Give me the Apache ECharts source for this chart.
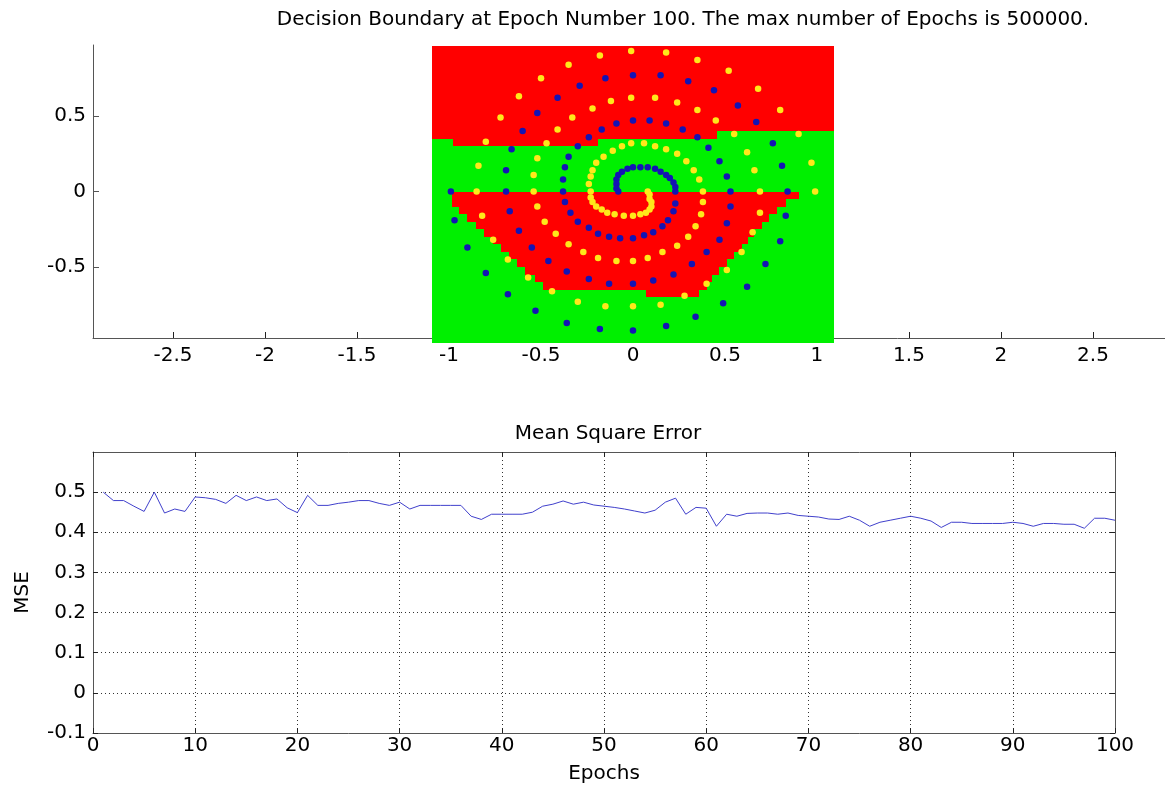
<!DOCTYPE html>
<html>
<head>
<meta charset="utf-8">
<script src="https://cdn.jsdelivr.net/npm/echarts@6.0.0/dist/echarts.min.js"></script>
<style>
  html, body { margin: 0; padding: 0; background: #fff; }
  #chart { width: 1165px; height: 787px; }
</style>
</head>
<body>
<div id="chart"></div>
<script>
// ---- top plot: decision boundary ----
const boundaryTicksX = [-2.5, -2, -1.5, -1, -0.5, 0, 0.5, 1, 1.5, 2, 2.5];
const boundaryTicksY = [-0.5, 0, 0.5];

// evaluated area (green = class 2) : [x0, x1, y0, y1]
const greenArea = [[-1.09, 1.09, -1.0, 0.965]];

const redBands = [
    [-1.09, 1.09, 0.40, 0.965],
    [-1.09, 0.455, 0.35, 0.40],
    [-0.98, -0.19, 0.30, 0.35],
    [-0.985, 0.90, -0.05, 0.0],
    [-0.985, 0.83, -0.10, -0.05],
    [-0.945, 0.78, -0.15, -0.10],
    [-0.90, 0.74, -0.20, -0.15],
    [-0.855, 0.70, -0.25, -0.20],
    [-0.81, 0.66, -0.30, -0.25],
    [-0.76, 0.625, -0.35, -0.30],
    [-0.72, 0.59, -0.40, -0.35],
    [-0.675, 0.55, -0.45, -0.40],
    [-0.63, 0.51, -0.50, -0.45],
    [-0.585, 0.47, -0.55, -0.50],
    [-0.535, 0.43, -0.60, -0.55],
    [-0.49, 0.40, -0.65, -0.60],
    [0.07, 0.36, -0.70, -0.65]
];

const yellowSpiral = [
    [0.99, 0.00], [0.97, 0.19], [0.90, 0.38], [0.80, 0.54], [0.68, 0.68], [0.52, 0.80], [0.35, 0.87], [0.18, 0.92], [-0.01, 0.93],
    [-0.18, 0.90], [-0.35, 0.84], [-0.50, 0.75], [-0.62, 0.63], [-0.72, 0.49], [-0.80, 0.33], [-0.84, 0.17], [-0.85, 0.00],
    [-0.82, -0.16], [-0.76, -0.32], [-0.68, -0.45], [-0.57, -0.57], [-0.44, -0.66], [-0.30, -0.73], [-0.15, -0.76], [0.00, -0.76],
    [0.15, -0.75], [0.28, -0.69], [0.40, -0.61], [0.51, -0.52], [0.59, -0.40], [0.65, -0.27], [0.69, -0.14], [0.69, 0.00],
    [0.66, 0.14], [0.62, 0.26], [0.55, 0.38], [0.45, 0.47], [0.35, 0.54], [0.24, 0.59], [0.12, 0.62], [-0.01, 0.62],
    [-0.12, 0.60], [-0.22, 0.55], [-0.33, 0.49], [-0.41, 0.41], [-0.47, 0.32], [-0.52, 0.22], [-0.54, 0.11], [-0.54, 0.00],
    [-0.52, -0.10], [-0.48, -0.20], [-0.42, -0.28], [-0.35, -0.35], [-0.27, -0.40], [-0.19, -0.44], [-0.09, -0.46], [0.00, -0.46],
    [0.08, -0.44], [0.16, -0.40], [0.24, -0.36], [0.30, -0.30], [0.34, -0.23], [0.37, -0.15], [0.38, -0.07], [0.38, 0.00],
    [0.36, 0.08], [0.33, 0.14], [0.29, 0.20], [0.24, 0.25], [0.18, 0.28], [0.12, 0.30], [0.06, 0.32], [-0.01, 0.32],
    [-0.06, 0.30], [-0.11, 0.27], [-0.16, 0.23], [-0.20, 0.19], [-0.22, 0.14], [-0.23, 0.10], [-0.24, 0.05], [-0.23, 0.00],
    [-0.23, -0.04], [-0.22, -0.07], [-0.20, -0.10], [-0.17, -0.12], [-0.14, -0.14], [-0.10, -0.15], [-0.05, -0.16], [0.00, -0.16],
    [0.04, -0.15], [0.07, -0.14], [0.09, -0.12], [0.10, -0.10], [0.10, -0.07], [0.09, -0.05], [0.09, -0.02], [0.08, 0.00]
];

const blueSpiral = [
    [-0.99, 0.00], [-0.97, -0.19], [-0.90, -0.37], [-0.80, -0.54], [-0.68, -0.68], [-0.53, -0.79], [-0.36, -0.87], [-0.18, -0.91], [0.00, -0.92],
    [0.18, -0.89], [0.34, -0.83], [0.49, -0.74], [0.62, -0.63], [0.72, -0.48], [0.80, -0.33], [0.83, -0.16], [0.84, 0.00],
    [0.81, 0.17], [0.76, 0.32], [0.67, 0.46], [0.57, 0.57], [0.44, 0.67], [0.30, 0.73], [0.15, 0.77], [0.00, 0.77],
    [-0.15, 0.75], [-0.29, 0.70], [-0.41, 0.62], [-0.52, 0.52], [-0.60, 0.40], [-0.66, 0.28], [-0.69, 0.14], [-0.69, 0.00],
    [-0.67, -0.13], [-0.62, -0.26], [-0.55, -0.37], [-0.46, -0.46], [-0.36, -0.53], [-0.24, -0.58], [-0.13, -0.61], [0.00, -0.61],
    [0.11, -0.59], [0.22, -0.55], [0.32, -0.48], [0.40, -0.40], [0.47, -0.32], [0.51, -0.21], [0.53, -0.10], [0.53, 0.00],
    [0.51, 0.10], [0.47, 0.20], [0.41, 0.29], [0.35, 0.36], [0.27, 0.41], [0.18, 0.45], [0.09, 0.47], [0.00, 0.47],
    [-0.09, 0.45], [-0.17, 0.41], [-0.24, 0.36], [-0.30, 0.30], [-0.35, 0.23], [-0.37, 0.16], [-0.38, 0.08], [-0.38, 0.00],
    [-0.37, -0.07], [-0.34, -0.14], [-0.30, -0.20], [-0.24, -0.24], [-0.19, -0.28], [-0.13, -0.30], [-0.07, -0.31], [0.00, -0.31],
    [0.06, -0.29], [0.11, -0.27], [0.16, -0.23], [0.19, -0.19], [0.22, -0.13], [0.23, -0.08], [0.23, 0.00],
    [0.23, 0.03], [0.22, 0.06], [0.20, 0.09], [0.18, 0.11], [0.15, 0.13], [0.12, 0.15], [0.08, 0.16], [0.04, 0.16],
    [0.00, 0.16], [-0.03, 0.15], [-0.06, 0.13], [-0.08, 0.11], [-0.09, 0.08], [-0.09, 0.05], [-0.09, 0.02], [-0.08, 0.00]
];

// ---- bottom plot: mean square error ----
const mseValues = [
    0.500, 0.479, 0.479, 0.465, 0.452, 0.500, 0.448, 0.458, 0.452, 0.488,
    0.486, 0.482, 0.472, 0.492, 0.479, 0.488, 0.479, 0.483, 0.461, 0.449,
    0.492, 0.467, 0.467, 0.472, 0.475, 0.479, 0.479, 0.472, 0.467, 0.475,
    0.458, 0.467, 0.467, 0.467, 0.467, 0.467, 0.440, 0.432, 0.445, 0.445,
    0.445, 0.445, 0.450, 0.465, 0.470, 0.478, 0.470, 0.475, 0.468, 0.465,
    0.462, 0.458, 0.453, 0.448, 0.455, 0.475, 0.485, 0.445, 0.462, 0.460,
    0.415, 0.445, 0.440, 0.447, 0.448, 0.448, 0.445, 0.448, 0.442, 0.440,
    0.438, 0.433, 0.432, 0.440, 0.430, 0.415, 0.425, 0.430, 0.435, 0.440,
    0.435, 0.428, 0.412, 0.425, 0.425, 0.422, 0.422, 0.422, 0.422, 0.425,
    0.422, 0.415, 0.422, 0.422, 0.420, 0.420, 0.410, 0.435, 0.435, 0.430
];
const epochs = mseValues.map((v, i) => i + 1);

const font = 'DejaVu Sans';
const axisGray = '#555';
const labelStyle = { color: '#000', fontFamily: font, fontSize: 20 };

// one filled band per data row, snapped to whole pixels so neighbours meet cleanly
function renderBand(params, api) {
    const p0 = api.coord([api.value(0), api.value(3)]);
    const p1 = api.coord([api.value(1), api.value(2)]);
    const x0 = Math.round(p0[0]), y0 = Math.round(p0[1]);
    const x1 = Math.round(p1[0]), y1 = Math.round(p1[1]);
    return {
        type: 'rect',
        shape: { x: x0, y: y0, width: x1 - x0, height: y1 - y0 },
        style: { fill: api.visual('color') }
    };
}

const chart = echarts.init(document.getElementById('chart'));

const option = {
    backgroundColor: '#fff',
    animation: false,
    title: [
        {
            text: 'Decision Boundary at Epoch Number 100. The max number of Epochs is 500000.',
            left: 678, top: 5, textAlign: 'center',
            textStyle: { color: '#000', fontFamily: font, fontSize: 20, fontWeight: 'normal' }
        },
        {
            text: 'Mean Square Error',
            left: 603, top: 419, textAlign: 'center',
            textStyle: { color: '#000', fontFamily: font, fontSize: 20, fontWeight: 'normal' }
        }
    ],
    grid: [
        { left: 93, top: 45, width: 1080, height: 293, outerBoundsMode: 'none' },
        { left: 93, top: 452, width: 1022, height: 281, outerBoundsMode: 'none' }
    ],
    xAxis: [
        {
            gridIndex: 0, type: 'value', min: -2.935, max: 2.935,
            axisLine: { onZero: false, lineStyle: { color: axisGray, width: 1 } },
            axisTick: { inside: true, length: 6, customValues: boundaryTicksX, lineStyle: { color: '#222' } },
            axisLabel: Object.assign({ customValues: boundaryTicksX, margin: 8 }, labelStyle),
            splitLine: { show: false }
        },
        {
            gridIndex: 1, type: 'value', min: 0, max: 100, interval: 10,
            name: 'Epochs', nameLocation: 'middle', nameGap: 31,
            nameTextStyle: labelStyle,
            axisLine: { onZero: false, lineStyle: { color: axisGray, width: 1 } },
            axisTick: { inside: true, length: 5, lineStyle: { color: '#222' } },
            axisLabel: Object.assign({ margin: 3 }, labelStyle),
            splitLine: { show: true, lineStyle: { color: '#333', type: [1, 3], width: 1 } }
        },
        {
            gridIndex: 1, type: 'value', min: 0, max: 100, interval: 10, position: 'top',
            axisLine: { onZero: false, lineStyle: { color: axisGray, width: 1 } },
            axisTick: { inside: true, length: 5, lineStyle: { color: '#222' } },
            axisLabel: { show: false },
            splitLine: { show: false }
        }
    ],
    yAxis: [
        {
            gridIndex: 0, type: 'value', min: -0.97, max: 0.97,
            axisLine: { show: true, onZero: false, lineStyle: { color: axisGray, width: 1 } },
            axisTick: { show: true, inside: true, length: 6, customValues: boundaryTicksY, lineStyle: { color: axisGray } },
            axisLabel: Object.assign({ customValues: boundaryTicksY, margin: 7 }, labelStyle),
            splitLine: { show: false }
        },
        {
            gridIndex: 1, type: 'value', min: -0.1, max: 0.6, interval: 0.1,
            name: 'MSE', nameLocation: 'middle', nameGap: 60, nameRotate: 90,
            nameTextStyle: labelStyle,
            axisLine: { show: true, onZero: false, lineStyle: { color: axisGray, width: 1 } },
            axisTick: { show: true, inside: true, length: 5, lineStyle: { color: '#222' } },
            axisLabel: Object.assign({ margin: 7, showMaxLabel: false }, labelStyle),
            splitLine: { show: true, lineStyle: { color: '#333', type: [1, 3], width: 1 } }
        },
        {
            gridIndex: 1, type: 'value', min: -0.1, max: 0.6, interval: 0.1, position: 'right',
            axisLine: { show: true, onZero: false, lineStyle: { color: axisGray, width: 1 } },
            axisTick: { show: true, inside: true, length: 5, lineStyle: { color: '#222' } },
            axisLabel: { show: false },
            splitLine: { show: false }
        }
    ],
    series: [
        {
            type: 'custom', name: 'class 2 area', xAxisIndex: 0, yAxisIndex: 0,
            renderItem: renderBand, data: greenArea,
            encode: { x: [0, 1], y: [2, 3] },
            itemStyle: { color: '#00f000' }, silent: true, z: 1
        },
        {
            type: 'custom', name: 'class 1 area', xAxisIndex: 0, yAxisIndex: 0,
            renderItem: renderBand, data: redBands,
            encode: { x: [0, 1], y: [2, 3] },
            itemStyle: { color: '#ff0000' }, silent: true, z: 2
        },
        {
            type: 'scatter', name: 'class 1', xAxisIndex: 0, yAxisIndex: 0,
            data: yellowSpiral, symbol: 'circle', symbolSize: 6.5,
            itemStyle: { color: '#ffe81a', opacity: 1 }, z: 3
        },
        {
            type: 'scatter', name: 'class 2', xAxisIndex: 0, yAxisIndex: 0,
            data: blueSpiral, symbol: 'circle', symbolSize: 6.5,
            itemStyle: { color: '#1414b4', opacity: 1 }, z: 3
        },
        {
            type: 'line', name: 'MSE', xAxisIndex: 1, yAxisIndex: 1,
            data: epochs.map((e, i) => [e, mseValues[i]]),
            showSymbol: false, symbol: 'none',
            lineStyle: { color: '#4040cc', width: 1 }, z: 3
        }
    ]
};

chart.setOption(option);
</script>
</body>
</html>
